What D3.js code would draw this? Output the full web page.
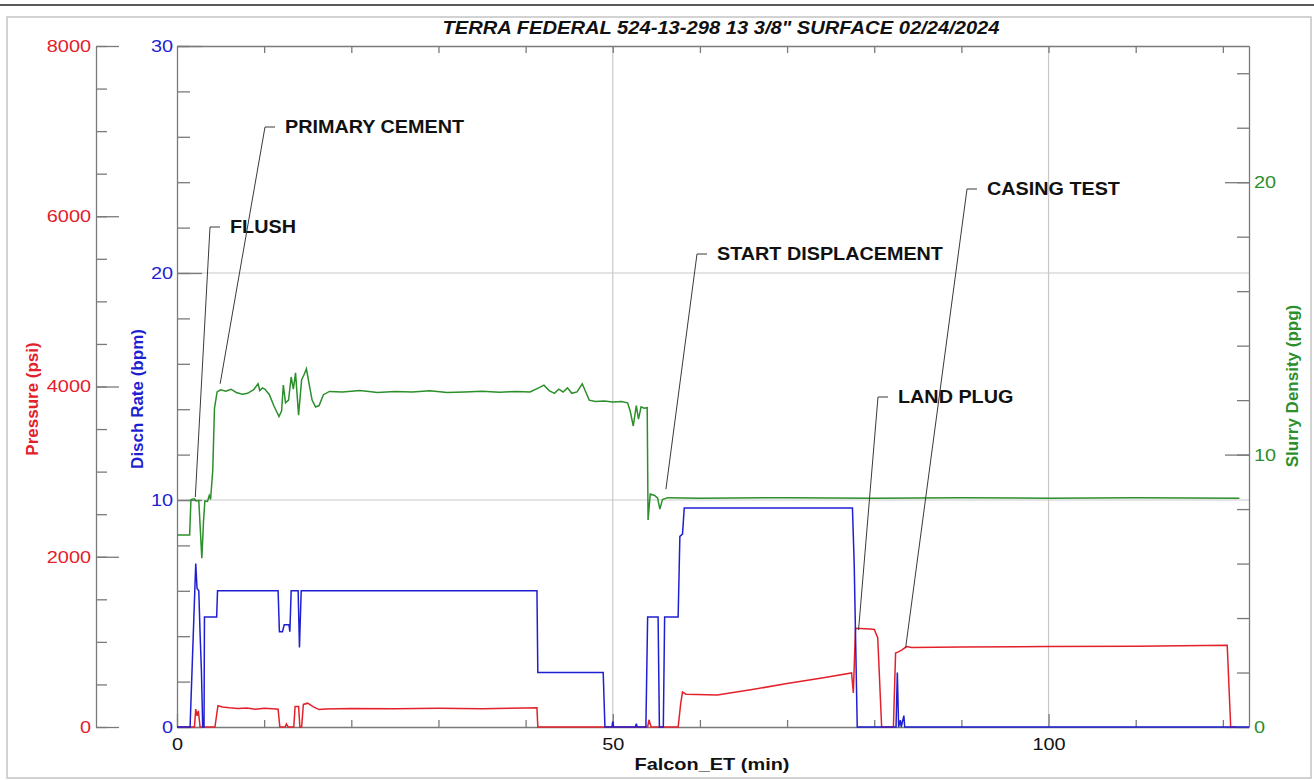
<!DOCTYPE html>
<html>
<head>
<meta charset="utf-8">
<script src="https://cdn.jsdelivr.net/npm/d3@7"></script>
<style>
  html, body { margin: 0; padding: 0; background: #fff; }
  svg text { font-family: "Liberation Sans", Arial, sans-serif; }
</style>
</head>
<body>
<svg id="chart" width="1314" height="780"></svg>
<script>
// ---- data ----
const chartTitle = 'TERRA FEDERAL 524-13-298 13 3/8" SURFACE 02/24/2024';
const timeTicks = [0, 50, 100];
const pressureTicks = [0, 2000, 4000, 6000, 8000];
const rateTicks = [0, 10, 20, 30];
const densityTicks = [0, 10, 20];

// [minutes, psi]
const pressureData = [
  [0, 0], [2.0, 0], [2.15, 210], [2.3, 130], [2.45, 190], [2.65, 0], [4.35, 0], [4.7, 250],
  [5.2, 235], [6, 225], [7, 218], [8, 222], [9, 210], [10, 220], [11, 215], [11.6, 208],
  [11.8, 0], [12.4, 0], [12.55, 35], [12.75, 0], [13.4, 0], [13.55, 240], [13.95, 240],
  [14.1, 0], [14.3, 0], [14.5, 265], [15, 280], [15.6, 240], [16.3, 205], [17, 212],
  [20, 218], [25, 214], [30, 220], [35, 215], [40, 222], [41.3, 225], [41.4, 0],
  [54.0, 0], [54.15, 85], [54.4, 0], [57.5, 0], [57.8, 280], [58.0, 410], [58.4, 385],
  [62.0, 375], [66, 440], [70, 510], [74, 575], [77.4, 635], [77.6, 400], [77.85, 1160],
  [79.5, 1150], [80.0, 1145], [80.4, 1050], [80.85, 0], [82.2, 0], [82.45, 870],
  [82.7, 880], [83.2, 905], [83.7, 945], [84.3, 935], [90, 940], [100, 945], [110, 948],
  [120.5, 960], [120.9, 0], [121.5, 0]
];

// [minutes, bpm]
const rateData = [
  [0, 0], [1.5, 0], [2.15, 7.2], [2.3, 6.1], [2.5, 6.0], [2.65, 4.1], [2.8, 2.5], [2.95, 0],
  [3.1, 0], [3.15, 4.85], [4.55, 4.85], [4.65, 6.0], [11.6, 6.0], [11.75, 4.2], [12.1, 4.2],
  [12.3, 4.5], [12.85, 4.5], [12.95, 4.2], [13.1, 6.0], [13.9, 6.0], [14.05, 3.5],
  [14.25, 6.0], [41.3, 6.0], [41.4, 2.4], [48.9, 2.4], [49.1, 0], [49.9, 0], [50.0, 0.25],
  [50.1, 0], [52.6, 0], [52.7, 0.15], [52.8, 0], [53.8, 0], [54.0, 4.85], [55.2, 4.85],
  [55.35, 0], [55.8, 0], [55.95, 4.85], [57.5, 4.85], [57.7, 8.4], [58.0, 8.5], [58.2, 9.65],
  [77.5, 9.65], [77.7, 7.2], [78.05, 0], [82.5, 0], [82.65, 2.4], [82.8, 0], [83.0, 0.3],
  [83.1, 0], [83.4, 0.5], [83.5, 0], [123, 0]
];

// [minutes, ppg]
const densityData = [
  [0, 7.05], [1.45, 7.05], [1.6, 8.35], [2.0, 8.38], [2.2, 8.3], [2.5, 8.32], [2.65, 7.4],
  [2.85, 6.2], [3.05, 7.6], [3.2, 8.3], [3.5, 8.28], [3.7, 8.5], [3.85, 8.35], [4.1, 9.4],
  [4.3, 11.7], [4.6, 12.3], [5.0, 12.38], [5.6, 12.33], [6.2, 12.4], [6.8, 12.28],
  [7.5, 12.22], [8.1, 12.25], [8.8, 12.38], [9.3, 12.6], [9.5, 12.35], [9.8, 12.45],
  [10.1, 12.4], [10.6, 12.2], [11.1, 11.8], [11.7, 11.4], [12.0, 11.6], [12.2, 12.55],
  [12.45, 11.9], [12.8, 12.0], [13.1, 12.85], [13.35, 12.4], [13.6, 13.0], [13.95, 11.45],
  [14.3, 12.75], [14.6, 12.95], [14.85, 13.15], [15.1, 12.7], [15.5, 12.0], [15.9, 11.75],
  [16.3, 11.8], [16.8, 12.2], [17.5, 12.32], [19, 12.3], [21, 12.35], [23, 12.28],
  [25, 12.32], [27, 12.3], [29, 12.34], [31, 12.28], [33, 12.3], [35, 12.33], [37, 12.29],
  [39, 12.32], [40.5, 12.3], [41.5, 12.45], [42.1, 12.55], [42.7, 12.35], [43.3, 12.25],
  [43.8, 12.4], [44.3, 12.3], [44.8, 12.45], [45.3, 12.25], [45.9, 12.3], [46.5, 12.6],
  [46.9, 12.3], [47.3, 12.0], [48, 11.95], [49, 11.97], [50, 11.93], [51, 11.95],
  [51.7, 11.9], [52.0, 11.6], [52.35, 11.05], [52.7, 11.8], [52.95, 11.3], [53.25, 11.75],
  [53.6, 11.7], [53.95, 11.72], [54.05, 7.6], [54.3, 8.55], [54.8, 8.5], [55.15, 8.4],
  [55.4, 8.0], [55.7, 8.35], [56.3, 8.42], [60, 8.4], [70, 8.42], [80, 8.4], [90, 8.42],
  [100, 8.4], [110, 8.42], [121.9, 8.4]
];

// callouts: text, anchor time, anchor value, which axis the value is on
const callouts = [
  { text: "FLUSH", t: 2.1, v: 8.44, axis: "density" },
  { text: "PRIMARY CEMENT", t: 4.95, v: 12.6, axis: "density" },
  { text: "START DISPLACEMENT", t: 56.1, v: 8.73, axis: "density" },
  { text: "LAND PLUG", t: 78.2, v: 1140, axis: "pressure" },
  { text: "CASING TEST", t: 83.6, v: 928, axis: "pressure" }
];
// where each callout's elbow sits (pixels)
const calloutElbows = [[210, 227], [265, 127], [697, 254], [878, 397], [967, 189]];

// ---- layout ----
const W = 1314, H = 780;
const plot = { left: 177, right: 1249, top: 46, bottom: 727 };
const colors = { pressure: "#e3212b", rate: "#1f1fd2", density: "#2b8f2b", axis: "#7a7a7a", grid: "#c9c9c9" };
const font = '"Liberation Sans", Arial, sans-serif';

const svg = d3.select("#chart");

const x = d3.scaleLinear().domain([0, 123]).range([plot.left, plot.right]);
const yPressure = d3.scaleLinear().domain([0, 8000]).range([plot.bottom, plot.top]);
const yRate = d3.scaleLinear().domain([0, 30]).range([plot.bottom, plot.top]);
const yDensity = d3.scaleLinear().domain([0, 25]).range([plot.bottom, plot.top]);
const yFor = { pressure: yPressure, rate: yRate, density: yDensity };

// stretch text horizontally (the source picture is a bit widened)
function stretch(sel, factor) {
  sel.each(function () {
    const len = this.getComputedTextLength();
    d3.select(this).attr("textLength", len * factor).attr("lengthAdjust", "spacingAndGlyphs");
  });
}

// page frame
svg.append("line").attr("x1", 0).attr("x2", W).attr("y1", 5).attr("y2", 5)
  .attr("stroke", "#222").attr("stroke-width", 1.6);
svg.append("rect").attr("x", 7).attr("y", 17).attr("width", 1304).attr("height", 761)
  .attr("fill", "none").attr("stroke", "#c4c4c4").attr("stroke-width", 1.5);

// grid
const grid = svg.append("g");
grid.selectAll(".gx").data([50, 100]).join("line")
  .attr("x1", d => x(d)).attr("x2", d => x(d)).attr("y1", plot.top).attr("y2", plot.bottom)
  .attr("stroke", colors.grid).attr("stroke-width", 1.2);
grid.selectAll(".gy").data([10, 20]).join("line")
  .attr("x1", plot.left).attr("x2", plot.right).attr("y1", d => yRate(d)).attr("y2", d => yRate(d))
  .attr("stroke", colors.grid).attr("stroke-width", 1.2);

function styleAxis(g, color) {
  g.select(".domain").attr("stroke", colors.axis).attr("stroke-width", 1.3);
  g.selectAll(".tick line").attr("stroke", colors.axis).attr("stroke-width", 1.3);
  g.selectAll("text").attr("fill", color).style("font-family", font).style("font-size", "17px");
}

const plain = d3.format("d");

// pressure axis (left, red)
const pAxisX = 96;
svg.append("g").attr("transform", `translate(${pAxisX},0)`)
  .call(d3.axisLeft(yPressure).tickValues(d3.range(0, 8001, 500)).tickFormat("").tickSizeInner(-11).tickSizeOuter(0))
  .call(g => styleAxis(g, colors.pressure));
const pMajor = svg.append("g").attr("transform", `translate(${pAxisX},0)`)
  .call(d3.axisLeft(yPressure).tickValues(pressureTicks).tickFormat(plain).tickSizeInner(-23).tickSizeOuter(0).tickPadding(5))
  .call(g => styleAxis(g, colors.pressure));
pMajor.select(".domain").remove();

// rate axis (left, blue)
svg.append("g").attr("transform", `translate(${plot.left},0)`)
  .call(d3.axisLeft(yRate).tickValues(d3.range(0, 31, 2)).tickFormat("").tickSizeInner(-13).tickSizeOuter(0))
  .call(g => styleAxis(g, colors.rate));
const rMajor = svg.append("g").attr("transform", `translate(${plot.left},0)`)
  .call(d3.axisLeft(yRate).tickValues(rateTicks).tickFormat(plain).tickSizeInner(-25).tickSizeOuter(0).tickPadding(4))
  .call(g => styleAxis(g, colors.rate));
rMajor.select(".domain").remove();

// density axis (right, green)
svg.append("g").attr("transform", `translate(${plot.right},0)`)
  .call(d3.axisRight(yDensity).tickValues(d3.range(0, 25, 2)).tickFormat("").tickSizeInner(-12).tickSizeOuter(0))
  .call(g => styleAxis(g, colors.density));
const dMajor = svg.append("g").attr("transform", `translate(${plot.right},0)`)
  .call(d3.axisRight(yDensity).tickValues(densityTicks).tickFormat(plain).tickSizeInner(-24).tickSizeOuter(0).tickPadding(5))
  .call(g => styleAxis(g, colors.density));
dMajor.select(".domain").remove();

// time axes
svg.append("g").attr("transform", `translate(0,${plot.top})`)
  .call(d3.axisTop(x).tickValues(d3.range(10, 121, 10)).tickFormat("").tickSizeInner(-7).tickSizeOuter(0))
  .call(g => styleAxis(g, "#000"));
svg.append("g").attr("transform", `translate(0,${plot.bottom})`)
  .call(d3.axisBottom(x).tickValues(d3.range(10, 121, 10).filter(d => d % 50)).tickFormat("").tickSizeInner(-7).tickSizeOuter(0))
  .call(g => styleAxis(g, "#000"));
const xMajor = svg.append("g").attr("transform", `translate(0,${plot.bottom})`)
  .call(d3.axisBottom(x).tickValues(timeTicks).tickFormat(plain).tickSizeInner(-13).tickSizeOuter(0).tickPadding(11))
  .call(g => styleAxis(g, "#111"));
xMajor.select(".domain").remove();

// series
const line = y => d3.line().x(d => x(d[0])).y(d => y(d[1]));
svg.append("path").datum(densityData).attr("d", line(yDensity))
  .attr("fill", "none").attr("stroke", colors.density).attr("stroke-width", 1.5);
svg.append("path").datum(pressureData).attr("d", line(yPressure))
  .attr("fill", "none").attr("stroke", colors.pressure).attr("stroke-width", 1.5);
svg.append("path").datum(rateData).attr("d", line(yRate))
  .attr("fill", "none").attr("stroke", colors.rate).attr("stroke-width", 1.5);

// callouts
const co = svg.append("g").selectAll("g").data(callouts).join("g");
co.append("path")
  .attr("d", (d, i) => {
    const [ex, ey] = calloutElbows[i];
    return `M${ex + 10},${ey}H${ex}L${x(d.t)},${yFor[d.axis](d.v)}`;
  })
  .attr("fill", "none").attr("stroke", "#3a3a3a").attr("stroke-width", 1);
const coText = co.append("text")
  .attr("x", (d, i) => calloutElbows[i][0] + 20)
  .attr("y", (d, i) => calloutElbows[i][1])
  .attr("dy", "0.36em")
  .style("font-size", "17.5px").style("font-weight", "bold").attr("fill", "#111")
  .text(d => d.text);

// titles
const title = svg.append("text").attr("x", 721).attr("y", 34).attr("text-anchor", "middle")
  .style("font-size", "17.5px").style("font-weight", "bold").style("font-style", "italic")
  .attr("fill", "#111").text(chartTitle);
const xTitle = svg.append("text").attr("x", 712).attr("y", 770).attr("text-anchor", "middle")
  .style("font-size", "17px").style("font-weight", "bold").attr("fill", "#111")
  .text("Falcon_ET (min)");

function vTitle(cx, cy, text, color) {
  svg.append("text").attr("transform", `translate(${cx},${cy}) rotate(-90)`)
    .attr("text-anchor", "middle").attr("dy", "0.35em")
    .style("font-size", "17px").style("font-weight", "bold").attr("fill", color).text(text);
}
vTitle(32, 399, "Pressure (psi)", colors.pressure);
vTitle(137, 399, "Disch Rate (bpm)", colors.rate);
vTitle(1292, 386, "Slurry Density (ppg)", colors.density);

// widen horizontal texts to match the source
stretch(svg.selectAll(".tick text"), 1.17);
stretch(coText, 1.13);
title.attr("textLength", 557).attr("lengthAdjust", "spacingAndGlyphs");
xTitle.attr("textLength", 155).attr("lengthAdjust", "spacingAndGlyphs");
</script>
</body>
</html>
